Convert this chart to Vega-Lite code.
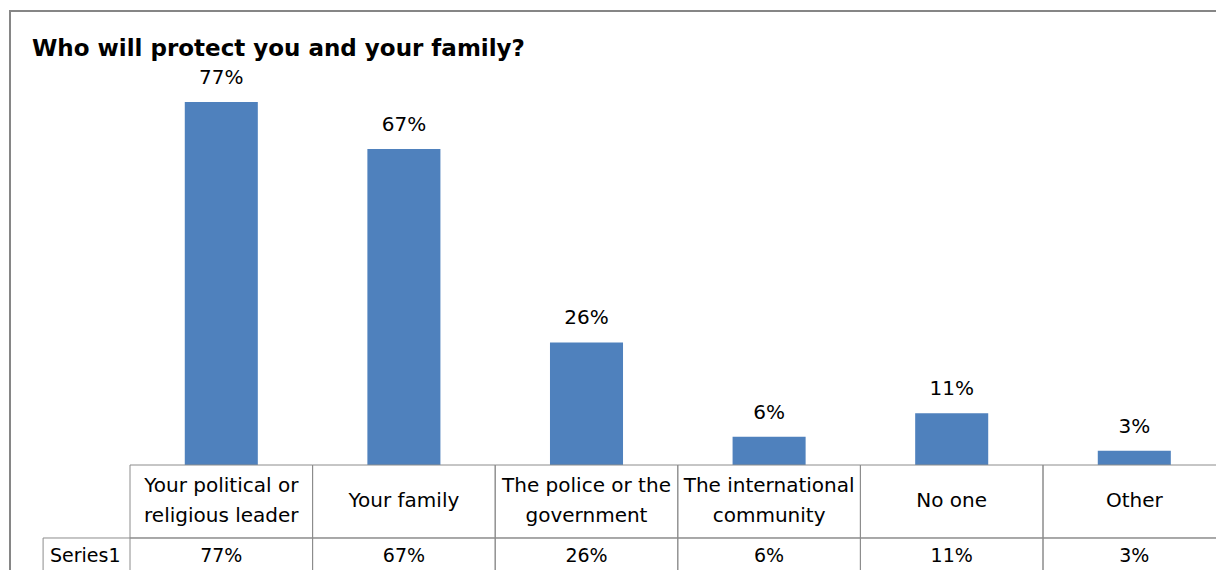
{
  "$schema": "https://vega.github.io/schema/vega-lite/v6.json",
  "width": 1216,
  "height": 570,
  "autosize": {"type": "none"},
  "padding": {"left": 10, "top": 11, "right": 0, "bottom": 0},
  "background": "white",
  "view": {"stroke": "#868686", "strokeWidth": 2},
  "title": {
    "text": "Who will protect you and your family?",
    "anchor": "start",
    "frame": "group",
    "orient": "top",
    "offset": -50,
    "dx": 22,
    "font": "DejaVu Sans",
    "fontSize": 23,
    "fontWeight": "bold",
    "color": "#000000"
  },
  "config": {"font": "DejaVu Sans"},
  "data": {
    "values": [
      {"category": "Your political or religious leader", "label": "Your political or\nreligious leader", "value": 0.77},
      {"category": "Your family", "label": "Your family", "value": 0.67},
      {"category": "The police or the government", "label": "The police or the\ngovernment", "value": 0.26},
      {"category": "The international community", "label": "The international\ncommunity", "value": 0.06},
      {"category": "No one", "label": "No one", "value": 0.11},
      {"category": "Other", "label": "Other", "value": 0.03}
    ]
  },
  "encoding": {
    "x": {
      "field": "category",
      "type": "nominal",
      "scale": {
        "domain": ["Series1", "Your political or religious leader", "Your family", "The police or the government", "The international community", "No one", "Other"],
        "range": [-62.6, 1215.6],
        "paddingInner": 0,
        "paddingOuter": 0
      },
      "axis": null
    }
  },
  "layer": [
    {
      "mark": {"type": "bar", "color": "#4F81BD", "width": {"band": 0.4}},
      "encoding": {
        "y": {"field": "value", "type": "quantitative", "scale": {"domain": [-0.246, 0.9629], "nice": false, "zero": false}, "axis": null},
        "y2": {"datum": 0}
      }
    },
    {
      "mark": {"type": "text", "baseline": "alphabetic", "dy": -18, "fontSize": 20, "color": "#000000"},
      "encoding": {
        "y": {"field": "value", "type": "quantitative"},
        "text": {"field": "value", "type": "quantitative", "format": ".0%"}
      }
    },
    {
      "mark": {"type": "rect", "fill": null, "fillOpacity": 0, "stroke": "#8c8c8c", "strokeWidth": 1},
      "encoding": {
        "y": {"datum": 0},
        "y2": {"datum": -0.1548}
      }
    },
    {
      "mark": {"type": "rect", "fill": null, "fillOpacity": 0, "stroke": "#8c8c8c", "strokeWidth": 1},
      "encoding": {
        "y": {"datum": -0.1548},
        "y2": {"datum": -0.4}
      }
    },
    {
      "transform": [{"filter": "indexof(datum.label, '\\n') >= 0"}],
      "mark": {"type": "text", "baseline": "middle", "fontSize": 20, "lineBreak": "\n", "lineHeight": 30, "dy": -15, "color": "#000000"},
      "encoding": {
        "y": {"datum": -0.0764},
        "text": {"field": "label", "type": "nominal"}
      }
    },
    {
      "transform": [{"filter": "indexof(datum.label, '\\n') < 0"}],
      "mark": {"type": "text", "baseline": "middle", "fontSize": 20, "color": "#000000"},
      "encoding": {
        "y": {"datum": -0.0764},
        "text": {"field": "label", "type": "nominal"}
      }
    },
    {
      "mark": {"type": "text", "baseline": "middle", "fontSize": 19, "color": "#000000"},
      "encoding": {
        "y": {"datum": -0.193},
        "text": {"field": "value", "type": "quantitative", "format": ".0%"}
      }
    },
    {
      "data": {"values": [{"row": "Series1"}]},
      "mark": {"type": "text", "baseline": "middle", "fontSize": 19, "color": "#000000"},
      "encoding": {
        "x": {"datum": "Series1", "bandPosition": 0.755},
        "y": {"datum": -0.193},
        "text": {"field": "row", "type": "nominal"}
      }
    },
    {
      "data": {"values": [{"row": "Series1"}]},
      "mark": {"type": "rule", "stroke": "#8c8c8c", "strokeWidth": 1},
      "encoding": {
        "x": {"datum": "Series1", "bandPosition": 0.524},
        "x2": {"datum": "Series1", "bandPosition": 1},
        "y": {"datum": -0.1548}
      }
    },
    {
      "data": {"values": [{"row": "Series1"}]},
      "mark": {"type": "rule", "stroke": "#8c8c8c", "strokeWidth": 1},
      "encoding": {
        "x": {"datum": "Series1", "bandPosition": 0.524},
        "y": {"datum": -0.1548},
        "y2": {"datum": -0.4}
      }
    }
  ]
}
